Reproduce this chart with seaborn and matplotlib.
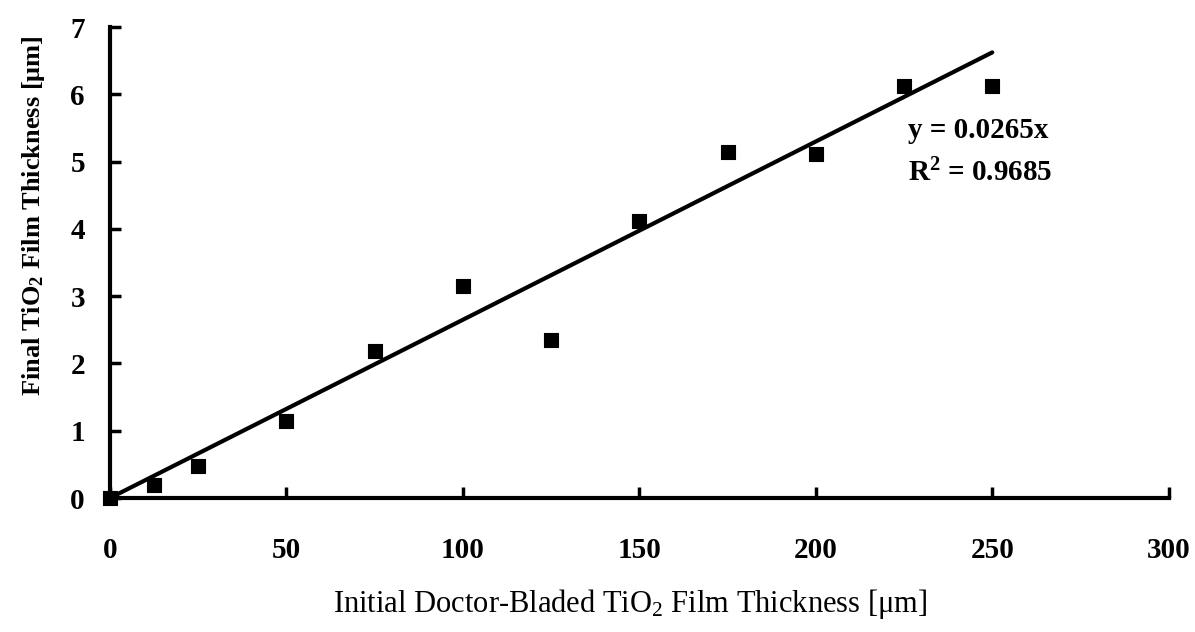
import numpy as np
import pandas as pd
import seaborn as sns
import matplotlib.pyplot as plt

# initial doctor-bladed thickness [um] vs final thickness [um]
initial_um = [0, 12.5, 25, 50, 75, 100, 125, 150, 175, 200, 225, 250]
final_um = [0.0, 0.2, 0.48, 1.15, 2.18, 3.15, 2.35, 4.12, 5.15, 5.12, 6.12, 6.12]
slope = 0.0265
r_squared = 0.9685
x_ticks = [0, 50, 100, 150, 200, 250, 300]
y_ticks = [0, 1, 2, 3, 4, 5, 6, 7]

sns.set_style('ticks')
plt.rcParams['font.family'] = ['Liberation Serif', 'DejaVu Serif']
plt.rcParams['mathtext.default'] = 'regular'
for k in ['text.color', 'axes.labelcolor', 'xtick.color', 'ytick.color', 'axes.edgecolor']:
    plt.rcParams[k] = 'black'

df = pd.DataFrame({'initial': initial_um, 'final': final_um})
fit = pd.DataFrame({'initial': [0, initial_um[-1]]})
fit['final'] = slope * fit['initial']

fig = plt.figure(figsize=(11.95, 6.32), dpi=100)
ax = fig.add_axes([0.092, 0.212, 0.886, 0.745])

sns.lineplot(data=fit, x='initial', y='final', color='black', linewidth=3, ax=ax)
sns.scatterplot(data=df, x='initial', y='final', color='black', marker='s',
                s=100, edgecolor='black', ax=ax, zorder=3, clip_on=False)

ax.set_xlim(0, 300)
ax.set_ylim(0, 7)
ax.set_xticks(x_ticks)
ax.set_yticks(y_ticks)
ax.tick_params(direction='in', length=8, width=2.5, labelsize=21)
ax.tick_params(axis='x', pad=28)
ax.tick_params(axis='y', pad=18)
for lab in ax.get_xticklabels() + ax.get_yticklabels():
    lab.set_fontweight('bold')
sns.despine(ax=ax)
for sp in ['left', 'bottom']:
    ax.spines[sp].set_linewidth(3)

ax.set_xlabel('Initial Doctor-Bladed TiO$_2$ Film Thickness [\u03bcm]', fontsize=22)
ax.set_ylabel('Final TiO$_2$ Film Thickness [\u03bcm]', fontsize=19, fontweight='bold')
ax.xaxis.set_label_coords(0.491, -0.19)
ax.yaxis.set_label_coords(-0.059, 0.60)

ax.text(226, 5.47, 'y = %.4fx' % slope, fontsize=21, fontweight='bold', va='center')
ax.text(226, 4.83, 'R$^2$ = %.4f' % r_squared, fontsize=21, fontweight='bold', va='center')

fig.savefig('out.png', dpi=100)
